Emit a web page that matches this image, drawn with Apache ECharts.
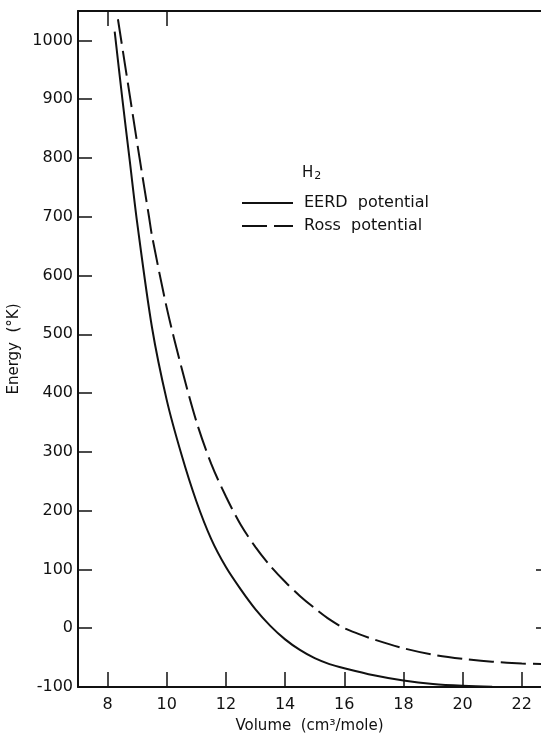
<!DOCTYPE html>
<html>
<head>
<meta charset="utf-8">
<script src="https://cdn.jsdelivr.net/npm/echarts@6/dist/echarts.min.js"></script>
<style>
  html, body { margin: 0; padding: 0; background: #fff; overflow: hidden; }
  #chart { width: 541px; height: 740px; }
</style>
</head>
<body>
<div id="chart"></div>
<script>
// Data
var eerdVolume = [8.24, 8.5, 8.75, 9.0, 9.5, 10, 10.5, 11, 11.5, 12, 12.5, 13, 13.5, 14, 14.5, 15, 15.5, 16, 17, 18, 19, 20, 21, 22, 22.65];
var eerdEnergy = [1015, 900, 795, 690, 512, 388, 295, 216, 152, 104, 66, 32, 4, -19, -37, -51, -61, -68, -80, -89, -95, -98, -99.5, -100, -100];

var rossVolume = [8.35, 8.77, 9.08, 9.4, 9.5, 10, 10.5, 11, 11.5, 12, 12.5, 13, 13.5, 14, 14.5, 15, 15.5, 16, 16.5, 17, 18, 19, 20, 21, 22, 22.65];
var rossEnergy = [1036, 900, 800, 700, 668, 545, 443, 352, 280, 224, 176, 138, 106, 79, 55, 34, 15, 0, -10, -19, -34, -45, -52, -57, -60, -61];

var xTicks = [8, 10, 12, 14, 16, 18, 20, 22];
var yTicks = [-100, 0, 100, 200, 300, 400, 500, 600, 700, 800, 900, 1000];
var xTopTicks = [8, 10];
var yRightTicks = [0, 100];

var seriesNames = ['EERD  potential', 'Ross  potential'];
var chartTitle = 'H';
var chartTitleSub = '2';
var xName = 'Volume  (cm³/mole)';
var yName = 'Energy  (°K)';

function pairs(xs, ys) {
  var out = [];
  for (var i = 0; i < xs.length; i++) out.push([xs[i], ys[i]]);
  return out;
}

var FONT = 'DejaVu Sans';
var chart = echarts.init(document.getElementById('chart'), null, { renderer: 'canvas' });

var axisLineStyle = { color: '#111', width: 2 };
var tickStyle = { color: '#111', width: 1.5 };
function plain(v) { return String(v); }

chart.setOption({
  animation: false,
  backgroundColor: '#ffffff',
  textStyle: { fontFamily: FONT, color: '#111' },
  title: {
    text: '{a|' + chartTitle + '}{b|' + chartTitleSub + '}',
    left: 302,
    top: 164,
    padding: 0,
    textStyle: {
      rich: {
        a: { fontFamily: FONT, fontSize: 15, color: '#111', fontWeight: 'normal' },
        b: { fontFamily: FONT, fontSize: 11, color: '#111', padding: [7, 0, 0, 1], fontWeight: 'normal' }
      }
    }
  },
  legend: {
    left: 241,
    top: 195,
    orient: 'vertical',
    padding: 0,
    itemWidth: 51,
    itemHeight: 14,
    itemGap: 7,
    data: seriesNames,
    itemStyle: { opacity: 0 },
    textStyle: { fontFamily: FONT, fontSize: 16, color: '#111', lineHeight: 16, padding: [0, 0, 0, 6] }
  },
  grid: { left: 78, top: 11, right: 0, bottom: 53, containLabel: false, outerBoundsMode: 'none' },
  xAxis: [
    {
      type: 'value',
      position: 'bottom',
      min: 7,
      max: 22.65,
      name: xName,
      nameLocation: 'middle',
      nameGap: 32,
      nameTextStyle: { fontFamily: FONT, fontSize: 15, color: '#111' },
      splitLine: { show: false },
      axisLine: { show: true, onZero: false, lineStyle: axisLineStyle },
      axisTick: { show: true, inside: true, length: 15, lineStyle: tickStyle, customValues: xTicks },
      axisLabel: { show: true, margin: 10, fontFamily: FONT, fontSize: 16, color: '#111', customValues: xTicks, formatter: plain }
    },
    {
      type: 'value',
      position: 'top',
      min: 7,
      max: 22.65,
      splitLine: { show: false },
      axisLine: { show: true, onZero: false, lineStyle: axisLineStyle },
      axisTick: { show: true, inside: true, length: 15, lineStyle: tickStyle, customValues: xTopTicks },
      axisLabel: { show: false }
    }
  ],
  yAxis: [
    {
      type: 'value',
      position: 'left',
      min: -100,
      max: 1050,
      name: yName,
      nameLocation: 'middle',
      nameGap: 48,
      nameRotate: 90,
      nameTextStyle: { fontFamily: FONT, fontSize: 15, color: '#111' },
      splitLine: { show: false },
      axisLine: { show: true, onZero: false, lineStyle: axisLineStyle },
      axisTick: { show: true, inside: true, length: 14, lineStyle: tickStyle, customValues: yTicks },
      axisLabel: { show: true, margin: 5, fontFamily: FONT, fontSize: 16, color: '#111', customValues: yTicks, formatter: plain }
    },
    {
      type: 'value',
      position: 'right',
      min: -100,
      max: 1050,
      splitLine: { show: false },
      axisLine: { show: false, onZero: false },
      axisTick: { show: true, inside: true, length: 5, lineStyle: tickStyle, customValues: yRightTicks },
      axisLabel: { show: false }
    }
  ],
  series: [
    {
      name: seriesNames[0],
      type: 'line',
      xAxisIndex: 0,
      yAxisIndex: 0,
      smooth: 0.3,
      symbol: 'none',
      showSymbol: false,
      lineStyle: { color: '#111', width: 2, type: 'solid' },
      itemStyle: { color: '#111' },
      data: pairs(eerdVolume, eerdEnergy)
    },
    {
      name: seriesNames[1],
      type: 'line',
      xAxisIndex: 0,
      yAxisIndex: 0,
      smooth: 0.3,
      symbol: 'none',
      showSymbol: false,
      lineStyle: { color: '#111', width: 2, type: [25, 7] },
      itemStyle: { color: '#111' },
      data: pairs(rossVolume, rossEnergy)
    }
  ]
});
</script>
</body>
</html>
